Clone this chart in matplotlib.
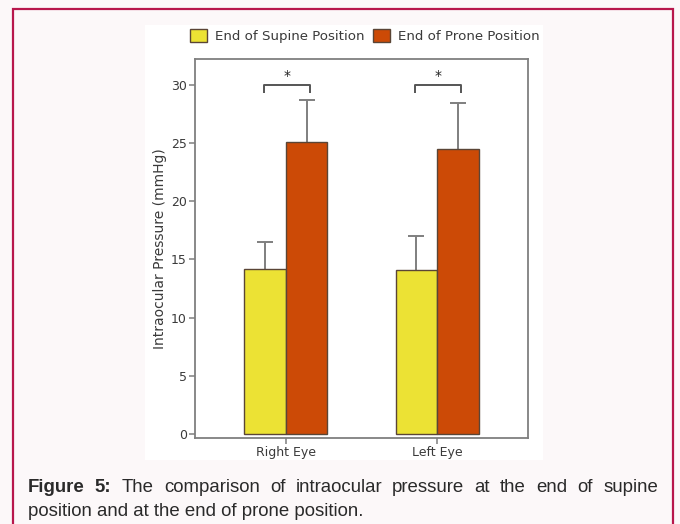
import matplotlib
matplotlib.use("Agg")
import matplotlib.pyplot as plt
from matplotlib.patches import Rectangle
import numpy as np

categories = ["Right Eye", "Left Eye"]
series_names = ["End of Supine Position", "End of Prone Position"]
supine = [14.2, 14.1]
supine_err = [2.3, 2.9]
prone = [25.1, 24.5]
prone_err = [3.6, 3.9]
yticks = [0, 5, 10, 15, 20, 25, 30]
caption_bold = "Figure 5:"
caption_line1 = "The comparison of intraocular pressure at the end of supine"
caption_line2 = "position and at the end of prone position."

yellow = "#ece234"
orange = "#cc4a06"
edge = "#5a4536"
gray = "#7f7f7f"
txt = "#3a3a3a"

fig = plt.figure(figsize=(6.8, 5.24), dpi=100)
fig.patch.set_facecolor("#fcf8f9")

# outer border
fig.add_artist(Rectangle((13/680, -0.1), (673-13)/680, 1.1 - 9/524,
                         transform=fig.transFigure, fill=False,
                         edgecolor="#b8174c", linewidth=1.6))
# white chart panel
fig.add_artist(Rectangle((145/680, 1-460/524), 398/680, 435/524,
                         transform=fig.transFigure, facecolor="white",
                         edgecolor="none", zorder=0))

ax = fig.add_axes([195/680, 1-437.7/524, 333/680, (437.7-59)/524])
ax.set_facecolor("white")
x = np.arange(len(categories))
w = 0.274
b1 = ax.bar(x - w/2, supine, w, color=yellow, edgecolor=edge, linewidth=1.0,
            label=series_names[0], zorder=3)
b2 = ax.bar(x + w/2, prone, w, color=orange, edgecolor=edge, linewidth=1.0,
            label=series_names[1], zorder=3)

# upper-only error bars
for xs, vals, errs in [(x - w/2, supine, supine_err), (x + w/2, prone, prone_err)]:
    vals = np.asarray(vals)
    errs = np.asarray(errs)
    ax.vlines(xs, vals, vals + errs, color=gray, linewidth=1.4, zorder=2)
    ax.plot(xs, vals + errs, ls="none", marker="_", markersize=11,
            mew=1.4, color=gray, zorder=2)

# significance brackets
for xi in x:
    xl, xr = xi - w/2 - 0.01, xi + w/2 + 0.02
    ax.plot([xl, xl, xr, xr], [29.3, 30.0, 30.0, 29.3], color="#555555",
            linewidth=1.4, solid_capstyle="butt", zorder=4)
    ax.text((xl + xr)/2, 30.1, "*", ha="center", va="bottom", fontsize=10,
            color="#222222")

ax.set_xlim(-0.6, 1.6)
ax.set_ylim(-0.3, 32.2)
ax.set_yticks(yticks)
ax.set_xticks(x)
ax.set_xticklabels(categories)
for s in ax.spines.values():
    s.set_color(gray)
    s.set_linewidth(1.3)
ax.tick_params(axis="both", colors=gray, labelcolor=txt, labelsize=9,
               length=4, width=1.1, pad=2)
ax.set_ylabel("Intraocular Pressure (mmHg)", fontsize=10, color=txt, labelpad=3)

fig.legend(handles=[b1, b2], labels=series_names, loc="center",
           bbox_to_anchor=(365/680, 1-36/524), ncol=2, frameon=False,
           fontsize=9.6, handlelength=1.3, handleheight=1.1, handletextpad=0.6,
           columnspacing=0.6, labelcolor=txt)

# justified caption
fig.canvas.draw()
r = fig.canvas.get_renderer()
left_px, right_px = 28, 658
y1 = 1 - 487/524
y2 = 1 - 511/524
fs = 13.4
words = [(wd, "bold") for wd in caption_bold.split()] + \
        [(wd, "normal") for wd in caption_line1.split()]
arts = []
for wd, fw in words:
    t = fig.text(0, y1, wd, fontsize=fs, fontweight=fw, color="#2a2a2a",
                 family="Liberation Sans", va="center", ha="left")
    arts.append(t)
widths = [a.get_window_extent(r).width for a in arts]
gap = (right_px - left_px - sum(widths)) / (len(arts) - 1)
cur = left_px
for a, wd_ in zip(arts, widths):
    a.set_x(cur / 680)
    cur += wd_ + gap
fig.text(left_px/680, y2, caption_line2, fontsize=fs, color="#2a2a2a",
         family="Liberation Sans", va="center", ha="left")

fig.savefig("out.png", dpi=100, facecolor=fig.get_facecolor())
